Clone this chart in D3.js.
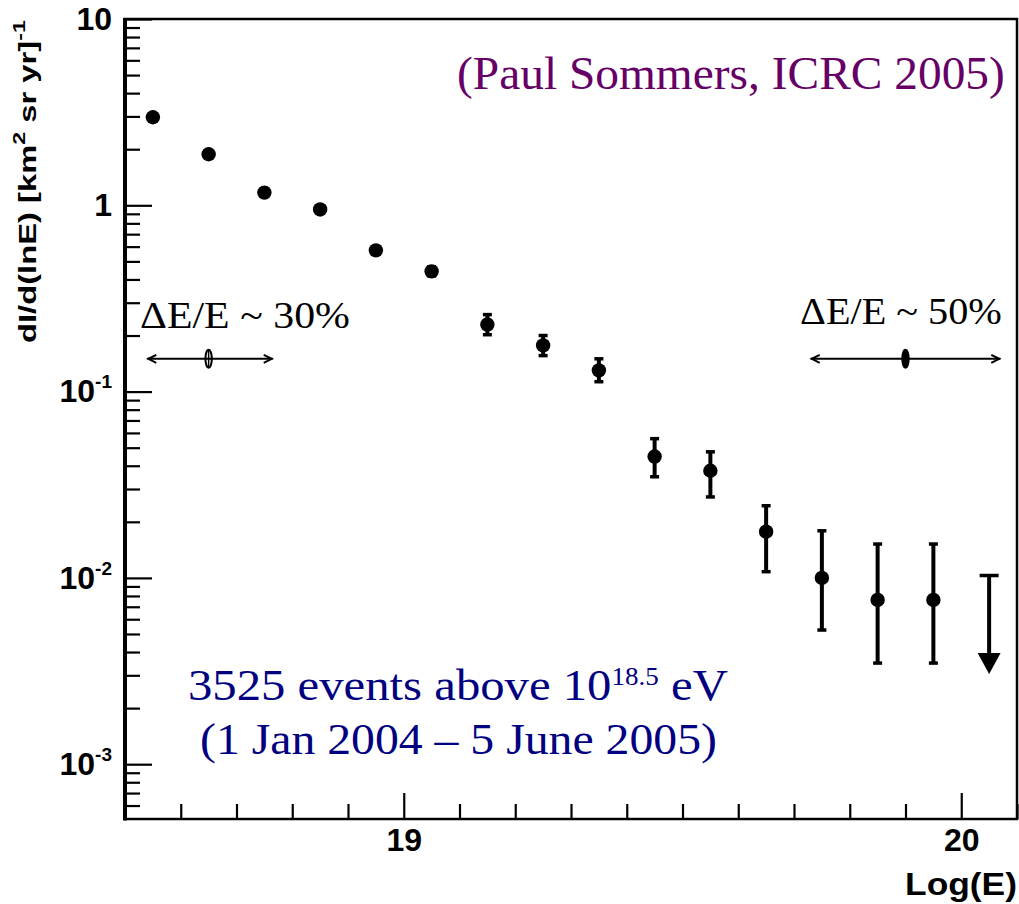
<!DOCTYPE html>
<html>
<head>
<meta charset="utf-8">
<script src="https://cdn.jsdelivr.net/npm/d3@7/dist/d3.min.js"></script>
<style>
  html, body { margin: 0; padding: 0; background: #ffffff; }
  svg { display: block; }
</style>
</head>
<body>
<svg id="chart" width="1019" height="904"></svg>
<script>
// ---------------- data ----------------
const logE = [18.55, 18.65, 18.75, 18.85, 18.95, 19.05, 19.15, 19.25, 19.35, 19.45, 19.55, 19.65, 19.75, 19.85, 19.95];
const flux = [2.97, 1.88, 1.17, 0.95, 0.573, 0.442, 0.229, 0.177, 0.130, 0.0448, 0.0376, 0.0177, 0.0100, 0.00762, 0.00762];
const fluxHigh = [3.05, 1.93, 1.20, 0.98, 0.590, 0.468, 0.259, 0.200, 0.150, 0.0559, 0.0475, 0.0244, 0.0179, 0.0152, 0.0152];
const fluxLow = [2.89, 1.83, 1.14, 0.92, 0.556, 0.418, 0.202, 0.156, 0.113, 0.0349, 0.0272, 0.0108, 0.00525, 0.00349, 0.00349];
const limitLogE = [20.05];
const limitTop = [0.0103];
const limitTip = [0.00305];

const xDomain = [18.5, 20.1];
const yDomain = [5.08e-4, 10];
const xMajorTicks = [19, 20];
const xMinorTicks = [18.6, 18.7, 18.8, 18.9, 19.1, 19.2, 19.3, 19.4, 19.5, 19.6, 19.7, 19.8, 19.9, 20.1];
const yMajorTicks = [1e-3, 1e-2, 1e-1, 1, 10];
const yMajorLabels = [["10", "-3"], ["10", "-2"], ["10", "-1"], ["1", ""], ["10", ""]];

const resLabels = ["\u0394E/E ~ 30%", "\u0394E/E ~ 50%"];
const resCenter = [18.65, 19.90];
const resLow = [18.54, 19.73];
const resHigh = [18.765, 20.07];
const resLevel = [0.15, 0.15];

const creditText = "(Paul Sommers, ICRC 2005)";
const eventsLine1 = ["3525 events above 10", "18.5", " eV"];
const eventsLine2 = "(1 Jan 2004 \u2013 5 June 2005)";
const xTitle = "Log(E)";
const yTitleParts = ["dI/d(lnE) [km", "2", " sr yr]", "-1"];

// ---------------- layout ----------------
const L = 125, R = 1017, T = 19, B = 819;
const SANS = "'Liberation Sans', Arial, Helvetica, sans-serif";
const SERIF = "'Liberation Serif', 'Times New Roman', Times, serif";

const svg = d3.select("#chart");
const x = d3.scaleLinear().domain(xDomain).range([L, R]);
const y = d3.scaleLog().domain(yDomain).range([B, T]);

// minor ticks for log axis
const yMinorTicks = [];
for (let e = -4; e <= 0; e++) {
  for (let m = 2; m <= 9; m++) {
    const v = m * Math.pow(10, e);
    if (v >= yDomain[0] && v <= yDomain[1]) yMinorTicks.push(v);
  }
}

// ---------------- axes ----------------
const gxMinor = svg.append("g").attr("transform", `translate(0,${B})`)
  .call(d3.axisBottom(x).tickValues(xMinorTicks).tickSize(-15).tickFormat(""));
const gxMajor = svg.append("g").attr("transform", `translate(0,${B})`)
  .call(d3.axisBottom(x).tickValues(xMajorTicks).tickSize(-26).tickPadding(9).tickFormat(d3.format("d")));
const gyMinor = svg.append("g").attr("transform", `translate(${L},0)`)
  .call(d3.axisLeft(y).tickValues(yMinorTicks).tickSize(-15).tickFormat(""));
const gyMajor = svg.append("g").attr("transform", `translate(${L},0)`)
  .call(d3.axisLeft(y).tickValues(yMajorTicks).tickSize(-27).tickPadding(13).tickFormat(""));

[gxMinor, gxMajor, gyMinor, gyMajor].forEach(g => {
  g.select(".domain").remove();
  g.selectAll(".tick line").attr("stroke", "#000").attr("stroke-width", 2.2);
});
gxMajor.selectAll(".tick text")
  .attr("fill", "#000").attr("font-family", SANS).attr("font-weight", "bold").attr("font-size", 32);

gyMajor.selectAll(".tick text").each(function(d, i) {
  const t = d3.select(this)
    .attr("fill", "#000").attr("font-family", SANS).attr("font-weight", "bold")
    .attr("font-size", 32).attr("text-anchor", "end").attr("dy", "0.32em");
  const lab = yMajorLabels[i];
  t.append("tspan").text(lab[0]);
  if (lab[1]) {
    t.append("tspan").attr("font-size", 19).attr("dy", -14).text(lab[1]);
  }
});

// frame
svg.append("rect").attr("x", L).attr("y", T).attr("width", R - L).attr("height", B - T)
  .attr("fill", "none").attr("stroke", "#000").attr("stroke-width", 2.5);
svg.append("line").attr("x1", L).attr("x2", L).attr("y1", T - 1).attr("y2", B + 1.5)
  .attr("stroke", "#000").attr("stroke-width", 4);

// ---------------- data marks ----------------
const pts = logE.map((e, i) => ({ e, v: flux[i], hi: fluxHigh[i], lo: fluxLow[i] }));
const gData = svg.append("g");
gData.selectAll("line.err").data(pts).enter().append("line")
  .attr("class", "err")
  .attr("x1", d => x(d.e)).attr("x2", d => x(d.e))
  .attr("y1", d => y(d.hi)).attr("y2", d => y(d.lo))
  .attr("stroke", "#000").attr("stroke-width", 4);
gData.selectAll("line.capHi").data(pts).enter().append("line")
  .attr("x1", d => x(d.e) - 4.5).attr("x2", d => x(d.e) + 4.5)
  .attr("y1", d => y(d.hi)).attr("y2", d => y(d.hi))
  .attr("stroke", "#000").attr("stroke-width", 3.5);
gData.selectAll("line.capLo").data(pts).enter().append("line")
  .attr("x1", d => x(d.e) - 4.5).attr("x2", d => x(d.e) + 4.5)
  .attr("y1", d => y(d.lo)).attr("y2", d => y(d.lo))
  .attr("stroke", "#000").attr("stroke-width", 3.5);
gData.selectAll("circle").data(pts).enter().append("circle")
  .attr("cx", d => x(d.e)).attr("cy", d => y(d.v)).attr("r", 7.2).attr("fill", "#000");

// upper limit
const lims = limitLogE.map((e, i) => ({ e, top: limitTop[i], tip: limitTip[i] }));
const gLim = svg.append("g");
lims.forEach(d => {
  const cx = x(d.e), yt = y(d.top), yp = y(d.tip);
  gLim.append("line").attr("x1", cx).attr("x2", cx).attr("y1", yt).attr("y2", yp - 18)
    .attr("stroke", "#000").attr("stroke-width", 4);
  gLim.append("line").attr("x1", cx - 9.5).attr("x2", cx + 9.5).attr("y1", yt).attr("y2", yt)
    .attr("stroke", "#000").attr("stroke-width", 3.5);
  gLim.append("path")
    .attr("d", `M${cx - 11.5},${yp - 21} L${cx + 11.5},${yp - 21} L${cx},${yp} Z`)
    .attr("fill", "#000");
});

// resolution arrows
const gRes = svg.append("g");
resLabels.forEach((lab, i) => {
  const yy = y(resLevel[i]);
  const x0 = x(resLow[i]), x1 = x(resHigh[i]), xc = x(resCenter[i]);
  gRes.append("line").attr("x1", x0).attr("x2", x1).attr("y1", yy).attr("y2", yy)
    .attr("stroke", "#000").attr("stroke-width", 2);
  gRes.append("path").attr("d", `M${x0 + 9},${yy - 4} L${x0 + 1},${yy} L${x0 + 9},${yy + 4}`)
    .attr("fill", "none").attr("stroke", "#000").attr("stroke-width", 2);
  gRes.append("path").attr("d", `M${x1 - 9},${yy - 4} L${x1 - 1},${yy} L${x1 - 9},${yy + 4}`)
    .attr("fill", "none").attr("stroke", "#000").attr("stroke-width", 2);
  gRes.append("ellipse").attr("cx", xc).attr("cy", yy).attr("rx", 3.2).attr("ry", 9)
    .attr("fill", i === 1 ? "#000" : "none").attr("stroke", "#000").attr("stroke-width", 2);
  gRes.append("line").attr("x1", xc).attr("x2", xc).attr("y1", yy - 9).attr("y2", yy + 9)
    .attr("stroke", "#000").attr("stroke-width", 1.5);
});

// ---------------- texts ----------------
function fitted(px, py, width, build, anchor) {
  const g = svg.append("g").attr("transform", `translate(${px},${py})`);
  const t = g.append("text").attr("x", 0).attr("y", 0).attr("text-anchor", anchor || "start");
  build(t);
  const bw = t.node().getBBox().width;
  if (bw > 0) t.attr("transform", `scale(${width / bw},1)`);
  return g;
}

// resolution labels
fitted(140, 328, 210, t => t.attr("font-family", SERIF).attr("font-size", 38).attr("fill", "#000").text(resLabels[0]));
fitted(800, 324, 202, t => t.attr("font-family", SERIF).attr("font-size", 38).attr("fill", "#000").text(resLabels[1]));

// credit
fitted(457, 89, 548, t => t.attr("font-family", SERIF).attr("font-size", 46).attr("fill", "#660066").text(creditText));

// events text
fitted(188, 700, 540, t => {
  t.attr("font-family", SERIF).attr("font-size", 45).attr("fill", "#000080");
  t.append("tspan").text(eventsLine1[0]);
  t.append("tspan").attr("font-size", 25).attr("dy", -15).text(eventsLine1[1]);
  t.append("tspan").attr("dy", 15).text(eventsLine1[2]);
});
fitted(200, 754, 517, t => t.attr("font-family", SERIF).attr("font-size", 45).attr("fill", "#000080").text(eventsLine2));

// axis titles
fitted(1017, 895, 112, t => t.attr("font-family", SANS).attr("font-weight", "bold").attr("font-size", 32)
  .attr("fill", "#000").text(xTitle), "end");

const gyt = svg.append("g").attr("transform", `translate(36,343) rotate(-90)`);
const yt = gyt.append("text").attr("font-family", SANS).attr("font-weight", "bold")
  .attr("font-size", 24).attr("fill", "#000").attr("text-anchor", "start");
yt.append("tspan").text(yTitleParts[0]);
yt.append("tspan").attr("font-size", 17).attr("dy", -11).text(yTitleParts[1]);
yt.append("tspan").attr("dy", 11).text(yTitleParts[2]);
yt.append("tspan").attr("font-size", 17).attr("dy", -11).text(yTitleParts[3]);
const ybw = yt.node().getBBox().width;
yt.attr("transform", `scale(${323 / ybw},1)`);
</script>
</body>
</html>
